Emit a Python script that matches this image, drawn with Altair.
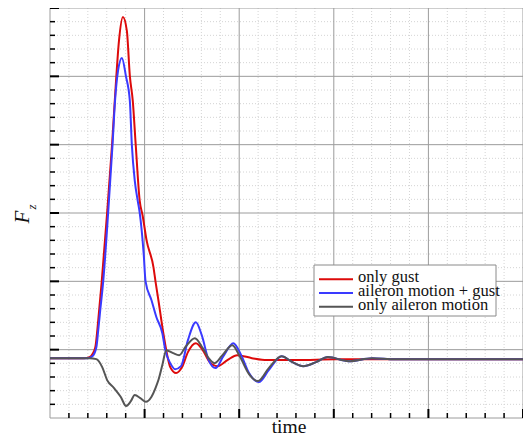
import altair as alt
import pandas as pd

# ---------------- data ----------------
red_t = [0, 0.365, 0.417, 0.448, 0.479, 0.510, 0.547, 0.604, 0.656, 0.698, 0.729, 0.771, 0.8125,
         0.844, 0.875, 0.906, 0.948, 0.979, 1.021, 1.094, 1.115, 1.146, 1.198, 1.229, 1.271, 1.333,
         1.396, 1.458, 1.542, 1.615, 1.6875, 1.771, 1.875, 1.979, 2.135, 2.292, 2.604, 3.021, 4.0625, 5.0]
red_v = [0.876, 0.876, 0.891, 0.934, 1.036, 1.431, 2.0, 3.007, 4.0, 4.934, 5.518, 5.869, 5.664,
         5.007, 4.642, 4.0, 3.182, 2.964, 2.599, 2.204, 2.0, 1.723, 1.241, 0.993, 0.745, 0.657,
         0.745, 0.964, 1.095, 0.993, 0.818, 0.759, 0.847, 0.920, 0.876, 0.847, 0.847, 0.861, 0.861, 0.861]

blue_t = [0, 0.396, 0.448, 0.490, 0.510, 0.531, 0.5625, 0.615, 0.661, 0.6875, 0.719, 0.760, 0.802,
          0.844, 0.865, 0.896, 0.927, 0.948, 0.990, 1.010, 1.073, 1.125, 1.1875, 1.219, 1.271, 1.323,
          1.385, 1.458, 1.542, 1.604, 1.677, 1.75, 1.833, 1.9375, 2.021, 2.104, 2.208, 2.3125, 2.448,
          2.5625, 2.677, 2.8125, 2.9375, 3.156, 3.406, 3.646, 5.0]
blue_v = [0.876, 0.876, 0.905, 1.036, 1.285, 1.577, 2.0, 3.007, 4.0, 4.642, 5.080, 5.270, 5.007,
          4.642, 4.0, 3.474, 3.182, 3.007, 2.409, 2.0, 1.723, 1.474, 1.241, 0.993, 0.803, 0.715,
          0.759, 1.139, 1.401, 1.212, 0.847, 0.730, 0.905, 1.095, 0.920, 0.657, 0.526, 0.701, 0.905,
          0.818, 0.759, 0.818, 0.891, 0.832, 0.876, 0.861, 0.861]

gray_t = [0, 0.417, 0.490, 0.552, 0.604, 0.677, 0.747, 0.805, 0.851, 0.896, 0.955, 1.014, 1.073,
          1.115, 1.146, 1.1875, 1.229, 1.302, 1.365, 1.4375, 1.531, 1.615, 1.677, 1.740, 1.823, 1.927,
          2.010, 2.104, 2.198, 2.3125, 2.448, 2.5625, 2.677, 2.8125, 2.9375, 3.156, 3.406, 3.646, 5.0]
gray_v = [0.876, 0.876, 0.861, 0.745, 0.555, 0.438, 0.311, 0.175, 0.238, 0.336, 0.292, 0.238, 0.311,
          0.438, 0.555, 0.774, 0.993, 0.949, 0.920, 1.051, 1.168, 1.022, 0.876, 0.803, 0.920, 1.066,
          0.891, 0.642, 0.540, 0.730, 0.905, 0.818, 0.759, 0.818, 0.891, 0.832, 0.876, 0.861, 0.861]

series_names = ["only gust", "aileron motion + gust", "only aileron motion"]
series_colors = ["#dd0a0a", "#3a3aff", "#555555"]

x_major = [0, 1, 2, 3, 4, 5]
y_major = [0, 1, 2, 3, 4, 5, 6]
x_minor = [round(i * 0.2, 1) for i in range(26) if i % 5 != 0]
y_minor = [round(i * 0.2, 1) for i in range(31) if i % 5 != 0]

x_title = "time"

W, H = 473, 410
FONT = "Liberation Sans Narrow"

# ---------------- build tables ----------------
rows = []
for name, ts, vs in zip(series_names, [red_t, blue_t, gray_t], [red_v, blue_v, gray_v]):
    for t, v in zip(ts, vs):
        rows.append({"series": name, "t": t, "v": v})
df = pd.DataFrame(rows)

xs = alt.Scale(domain=[0, 5], nice=False, zero=False)
ys = alt.Scale(domain=[0, 6], nice=False, zero=False)

def vrules(vals, **kw):
    return alt.Chart(pd.DataFrame({"g": vals})).mark_rule(**kw).encode(
        x=alt.X("g:Q", scale=xs, axis=None))

def hrules(vals, **kw):
    return alt.Chart(pd.DataFrame({"g": vals})).mark_rule(**kw).encode(
        y=alt.Y("g:Q", scale=ys, axis=None))

minor_x = vrules(x_minor, color="#d4d4d4", strokeWidth=1, strokeDash=[1, 2])
minor_y = hrules(y_minor, color="#d4d4d4", strokeWidth=1, strokeDash=[1, 2])
major_x = vrules(x_major, color="#9c9c9c", strokeWidth=1)
major_y = hrules(y_major, color="#9c9c9c", strokeWidth=1)

color_scale = alt.Scale(domain=series_names, range=series_colors)
axis_style = dict(labels=False, ticks=False, grid=False, domainColor="black",
                  domainWidth=2, title=None, zindex=2)
line_layers = []
for i, name in enumerate(series_names):
    enc = dict(
        x=alt.X("t:Q", scale=xs, axis=alt.Axis(**axis_style) if i == 0 else None),
        y=alt.Y("v:Q", scale=ys, axis=alt.Axis(**axis_style) if i == 0 else None),
        color=alt.Color("series:N", scale=color_scale, legend=None),
    )
    line_layers.append(
        alt.Chart(df[df.series == name]).mark_line(strokeWidth=2, interpolate="monotone").encode(**enc)
    )

# inward ticks
tick_x_major = alt.Chart(pd.DataFrame({"g": x_major[1:]})).mark_rule(color="black", strokeWidth=2).encode(
    x=alt.X("g:Q", scale=xs, axis=None), y=alt.value(H), y2=alt.value(H - 9))
tick_x_minor = alt.Chart(pd.DataFrame({"g": x_minor})).mark_rule(color="black", strokeWidth=1.5).encode(
    x=alt.X("g:Q", scale=xs, axis=None), y=alt.value(H), y2=alt.value(H - 5))
tick_y_major = alt.Chart(pd.DataFrame({"g": y_major[1:]})).mark_rule(color="black", strokeWidth=2).encode(
    y=alt.Y("g:Q", scale=ys, axis=None), x=alt.value(0), x2=alt.value(9))
tick_y_minor = alt.Chart(pd.DataFrame({"g": y_minor})).mark_rule(color="black", strokeWidth=1.5).encode(
    y=alt.Y("g:Q", scale=ys, axis=None), x=alt.value(0), x2=alt.value(5))

# legend (boxed, inside plot)
LX, LY, LW, LH = 264, 257, 182, 51
legend_box = alt.Chart(pd.DataFrame({"a": [0]})).mark_rect(
    fill="white", stroke="#8a8a8a", strokeWidth=1).encode(
    x=alt.value(LX), x2=alt.value(LX + LW), y=alt.value(LY), y2=alt.value(LY + LH))
legend_layers = [legend_box]
for i, (name, col) in enumerate(zip(series_names, series_colors)):
    yy = LY + 14.3 + i * 13.7
    d = pd.DataFrame({"label": [name]})
    legend_layers.append(alt.Chart(d).mark_rule(color=col, strokeWidth=2).encode(
        x=alt.value(LX + 5), x2=alt.value(LX + 39), y=alt.value(yy)))
    legend_layers.append(alt.Chart(d).mark_text(
        align="left", baseline="alphabetic", font=FONT, fontSize=16.5, color="#111").encode(
        text="label:N", x=alt.value(LX + 44), y=alt.value(yy + 3)))

# axis titles
xtitle = alt.Chart(pd.DataFrame({"s": [x_title]})).mark_text(
    font=FONT, fontSize=19.5, align="center", baseline="alphabetic", color="#111").encode(
    text="s:N", x=alt.value(239), y=alt.value(H + 15))
ytitle_F = alt.Chart(pd.DataFrame({"s": ["F"]})).mark_text(
    font="Liberation Serif", fontStyle="italic", fontSize=21, angle=270,
    align="center", baseline="middle", color="#111").encode(
    text="s:N", x=alt.value(-27), y=alt.value(209))
ytitle_z = alt.Chart(pd.DataFrame({"s": ["z"]})).mark_text(
    font="Liberation Serif", fontStyle="italic", fontSize=13, angle=270,
    align="center", baseline="middle", color="#111").encode(
    text="s:N", x=alt.value(-18), y=alt.value(199))

chart = alt.layer(
    minor_x, minor_y, major_x, major_y,
    *line_layers,
    tick_x_major, tick_x_minor, tick_y_major, tick_y_minor,
    *legend_layers,
    xtitle, ytitle_F, ytitle_z,
).properties(
    width=W, height=H,
    autosize=alt.AutoSizeParams(type="none"),
    padding={"left": 42, "top": 0, "right": 0, "bottom": 18},
    background="white",
).configure_view(stroke=None)

chart.save("out.html", embed_options={"renderer": "svg", "actions": False})
